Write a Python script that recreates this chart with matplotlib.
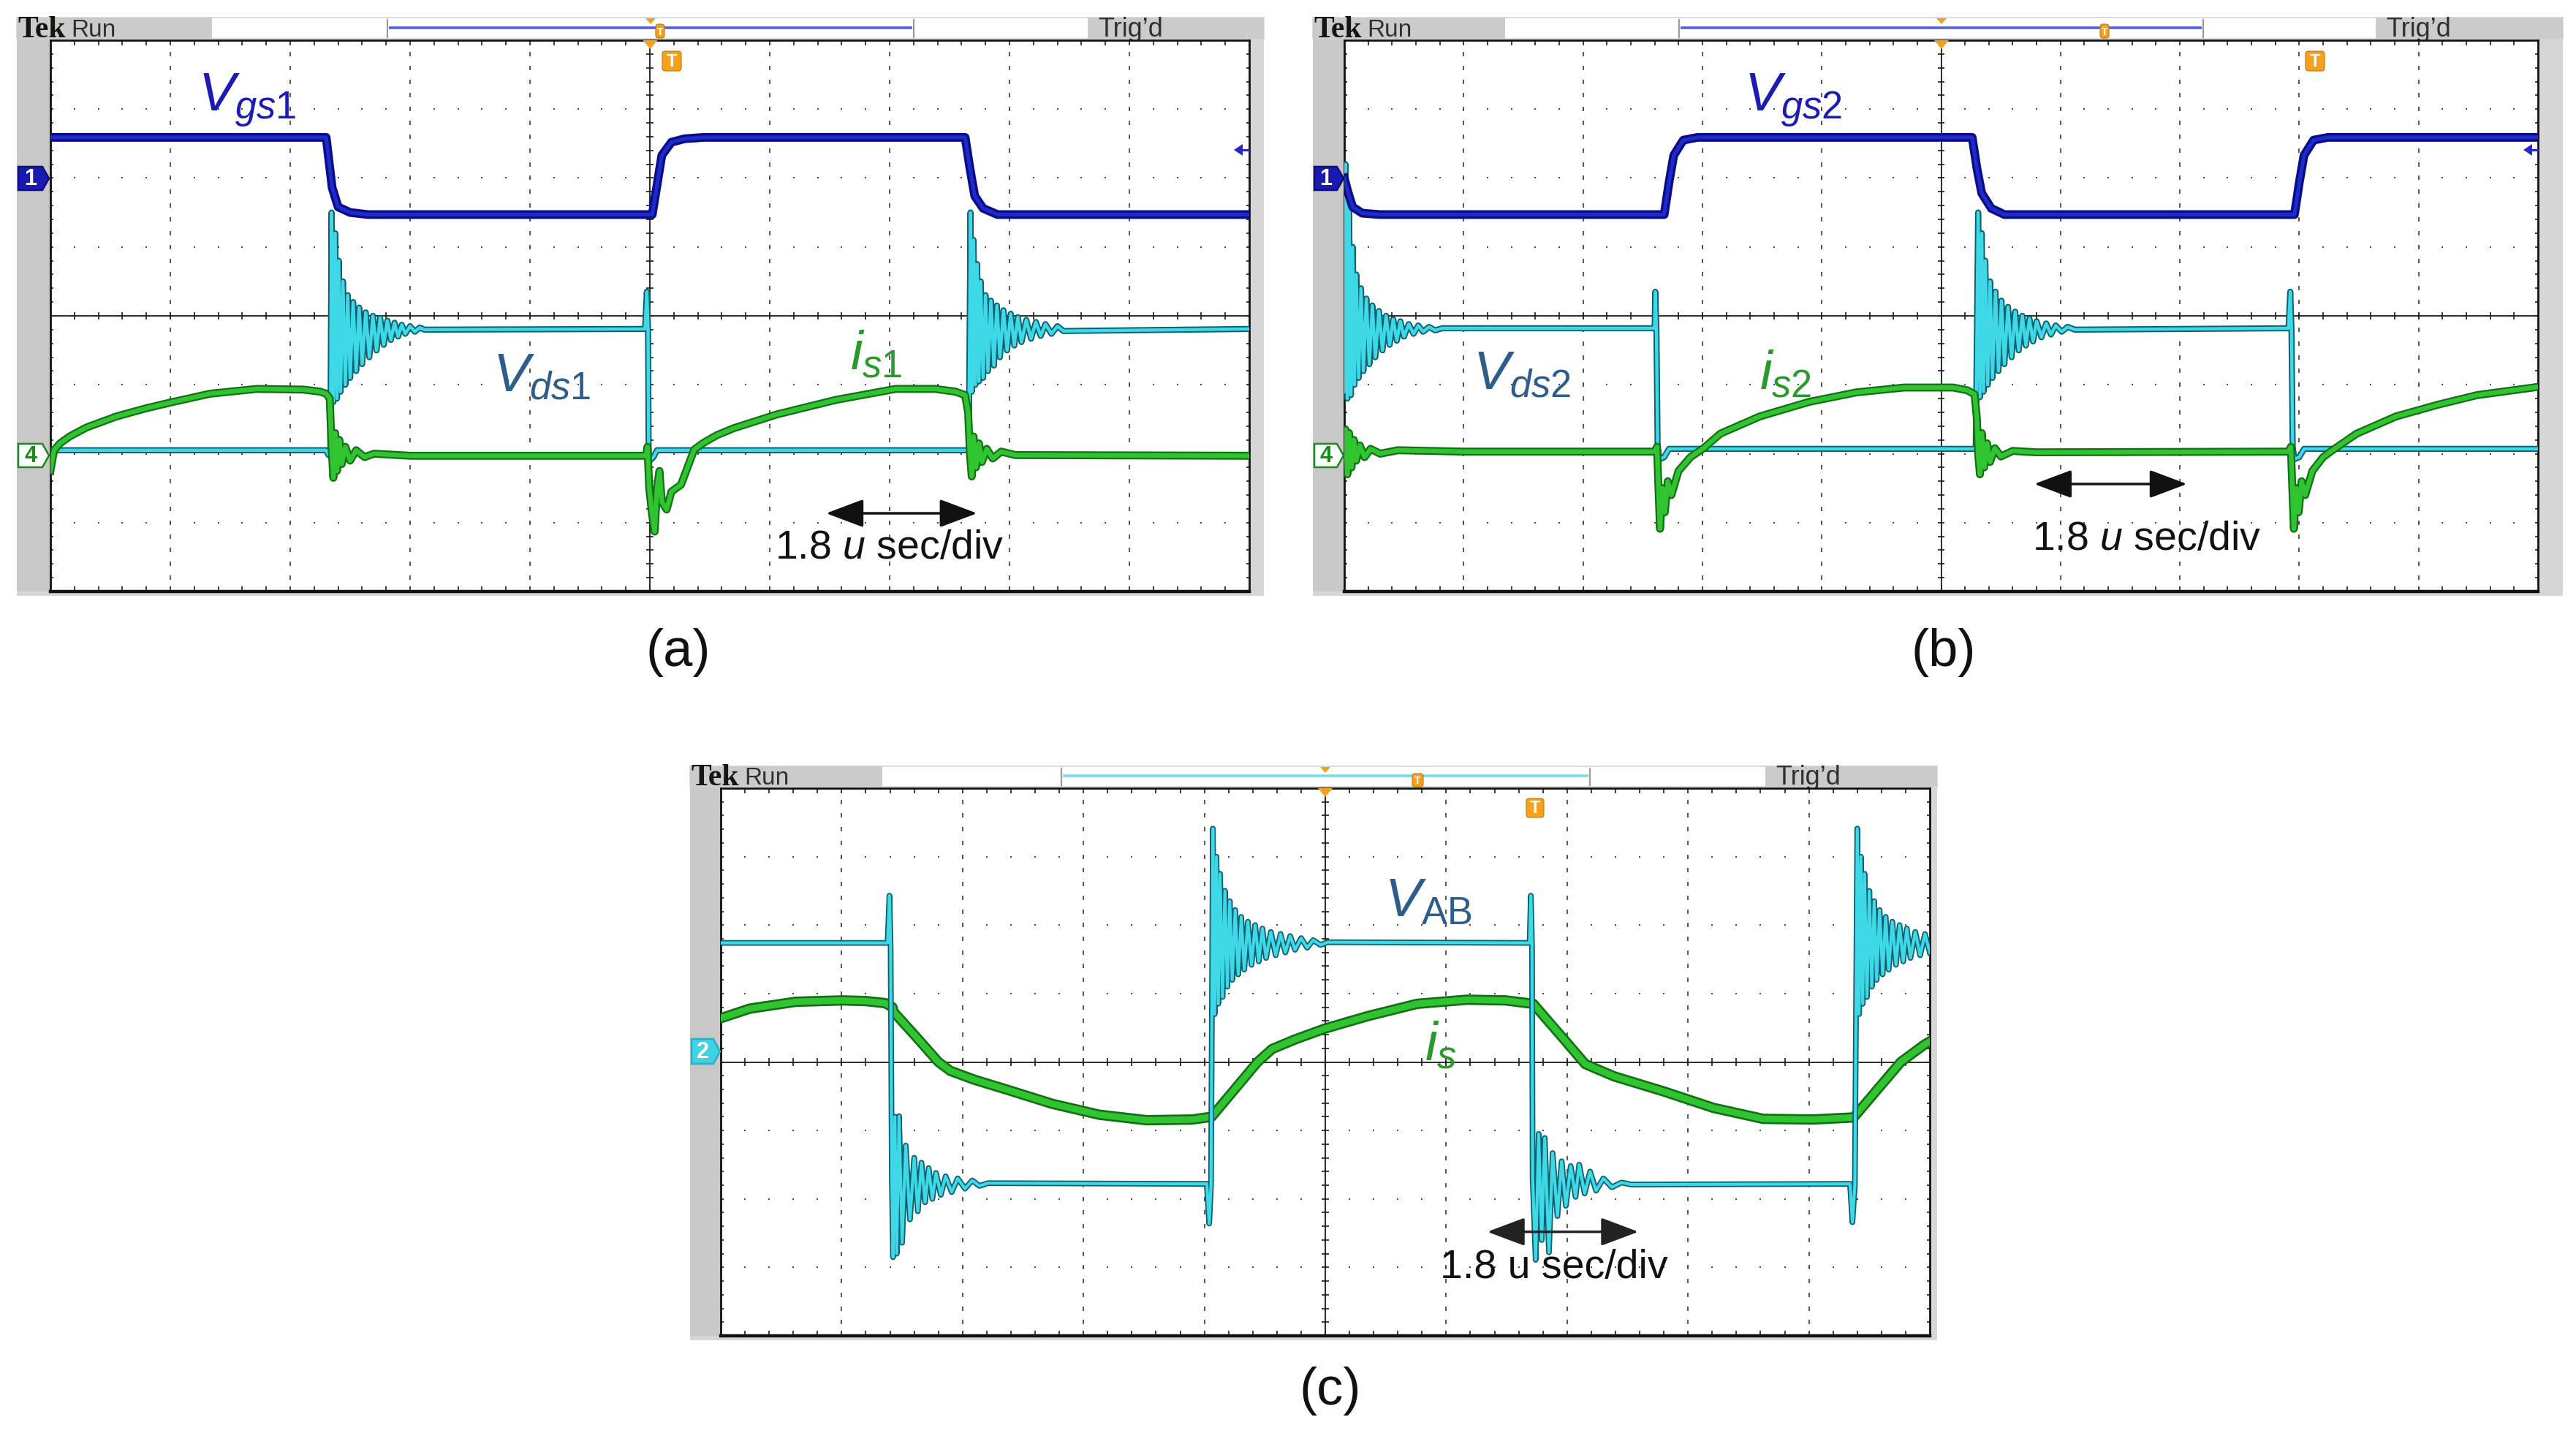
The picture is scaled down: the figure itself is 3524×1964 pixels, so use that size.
import numpy as np
import matplotlib
matplotlib.use('Agg')
import matplotlib.pyplot as plt
from matplotlib import patheffects as pe
from matplotlib.patches import Rectangle, Polygon, FancyBboxPatch
from matplotlib.collections import LineCollection

plt.rcParams['font.family'] = ['Liberation Sans', 'DejaVu Sans']
plt.rcParams['mathtext.fontset'] = 'custom'
plt.rcParams['mathtext.it'] = 'Liberation Sans:italic'
plt.rcParams['mathtext.rm'] = 'Liberation Sans'
plt.rcParams['mathtext.sf'] = 'Liberation Sans'
plt.rcParams['mathtext.bf'] = 'Liberation Sans:bold'

W, H, DPI = 3524, 1964, 100

# ---------------- data: (time [div], level [div]) read from the scope shots ----------------
# panel (a)
a_vgs1 = [(0.0, 6.59), (2.30, 6.59), (2.35, 5.86), (2.40, 5.58), (2.50, 5.50), (2.65, 5.47),
          (5.02, 5.47), (5.06, 5.90), (5.10, 6.33), (5.18, 6.52), (5.29, 6.57), (5.45, 6.59),
          (7.63, 6.59), (7.67, 6.14), (7.71, 5.74), (7.78, 5.56), (7.90, 5.47), (10.0, 5.47)]
a_vds1 = [(0.0, 2.05), (2.30, 2.05), (2.32, 1.98), (2.335, 2.05), (2.345, 5.50), (2.36, 2.75),
          (2.375, 5.20), (2.39, 2.80), (2.405, 4.80), (2.42, 2.90), (2.44, 4.50), (2.46, 3.00),
          (2.48, 4.30), (2.50, 3.10), (2.525, 4.20), (2.55, 3.20), (2.575, 4.12), (2.60, 3.30),
          (2.63, 4.05), (2.66, 3.40), (2.69, 4.00), (2.72, 3.50), (2.75, 3.97), (2.78, 3.58),
          (2.81, 3.93), (2.84, 3.65), (2.87, 3.90), (2.90, 3.70), (2.93, 3.87), (2.96, 3.74),
          (3.00, 3.85), (3.04, 3.77), (3.08, 3.83), (3.12, 3.80), (4.96, 3.81), (4.975, 4.35),
          (4.985, 3.80), (4.99, 2.00), (5.00, 1.90), (5.03, 1.95), (5.06, 2.05), (7.66, 2.05),
          (7.675, 5.50), (7.685, 2.90), (7.70, 5.10), (7.715, 3.00), (7.73, 4.75), (7.745, 3.05),
          (7.76, 4.50), (7.78, 3.10), (7.80, 4.30), (7.82, 3.20), (7.845, 4.22), (7.87, 3.28),
          (7.895, 4.15), (7.92, 3.40), (7.95, 4.08), (7.98, 3.50), (8.01, 4.03), (8.04, 3.57),
          (8.07, 3.98), (8.10, 3.62), (8.14, 3.94), (8.18, 3.67), (8.22, 3.91), (8.26, 3.71),
          (8.30, 3.88), (8.35, 3.74), (8.40, 3.85), (8.45, 3.78), (10.0, 3.81)]
a_is1 = [(0.00, 1.75), (0.03, 2.05), (0.08, 2.15), (0.16, 2.25), (0.30, 2.38), (0.55, 2.54),
         (0.80, 2.66), (1.02, 2.75), (1.33, 2.87), (1.72, 2.94), (2.11, 2.93), (2.25, 2.90),
         (2.30, 2.87), (2.33, 2.80), (2.345, 2.10), (2.36, 1.65), (2.375, 2.30), (2.39, 1.75),
         (2.41, 2.20), (2.43, 1.85), (2.46, 2.10), (2.50, 1.90), (2.55, 2.05), (2.62, 1.95),
         (2.70, 2.00), (3.00, 1.97), (4.97, 1.97), (4.98, 2.10), (4.995, 1.50), (5.02, 1.10),
         (5.04, 0.87), (5.06, 1.50), (5.08, 1.75), (5.10, 1.30), (5.14, 1.19), (5.18, 1.45),
         (5.26, 1.55), (5.37, 2.06), (5.45, 2.16), (5.56, 2.27), (5.70, 2.37), (6.06, 2.57),
         (6.55, 2.78), (7.05, 2.94), (7.38, 2.94), (7.55, 2.90), (7.63, 2.85), (7.655, 2.60),
         (7.67, 2.00), (7.685, 1.67), (7.70, 2.25), (7.72, 1.80), (7.745, 2.15), (7.77, 1.88),
         (7.81, 2.07), (7.86, 1.93), (7.93, 2.03), (8.05, 1.98), (10.0, 1.97)]

# panel (b)
b_vgs2 = [(0.0, 6.00), (0.03, 5.80), (0.07, 5.58), (0.15, 5.49), (0.30, 5.47), (2.68, 5.47),
          (2.72, 5.93), (2.76, 6.33), (2.84, 6.55), (2.96, 6.59), (5.26, 6.59), (5.30, 6.14),
          (5.34, 5.78), (5.42, 5.56), (5.53, 5.47), (7.96, 5.47), (8.00, 5.93), (8.04, 6.33),
          (8.12, 6.55), (8.24, 6.59), (10.0, 6.59)]
b_vds2 = [(0.0, 2.90), (0.01, 6.20), (0.025, 2.80), (0.04, 5.60), (0.055, 2.85), (0.07, 5.00),
          (0.085, 3.00), (0.10, 4.60), (0.12, 3.10), (0.14, 4.40), (0.16, 3.20), (0.185, 4.25),
          (0.21, 3.30), (0.235, 4.15), (0.26, 3.40), (0.29, 4.07), (0.32, 3.50), (0.35, 4.00),
          (0.38, 3.58), (0.41, 3.95), (0.44, 3.64), (0.47, 3.92), (0.50, 3.70), (0.54, 3.88),
          (0.58, 3.74), (0.62, 3.86), (0.66, 3.77), (0.71, 3.84), (0.76, 3.79), (0.82, 3.82),
          (2.60, 3.82), (2.605, 4.35), (2.615, 3.80), (2.625, 2.10), (2.64, 1.92), (2.68, 1.95),
          (2.72, 2.07), (5.29, 2.07), (5.31, 5.50), (5.325, 2.82), (5.34, 5.20), (5.355, 2.90),
          (5.37, 4.80), (5.39, 3.00), (5.41, 4.50), (5.43, 3.10), (5.455, 4.35), (5.48, 3.20),
          (5.505, 4.22), (5.53, 3.30), (5.56, 4.13), (5.59, 3.40), (5.62, 4.06), (5.65, 3.50),
          (5.68, 4.00), (5.71, 3.57), (5.74, 3.96), (5.77, 3.63), (5.80, 3.92), (5.84, 3.69),
          (5.88, 3.89), (5.92, 3.73), (5.96, 3.86), (6.01, 3.77), (6.06, 3.84), (6.12, 3.80),
          (7.91, 3.82), (7.925, 4.35), (7.935, 3.80), (7.945, 2.10), (7.96, 1.92), (8.00, 1.95),
          (8.04, 2.07), (10.0, 2.07)]
b_is2 = [(0.0, 2.04), (0.01, 2.35), (0.025, 1.70), (0.04, 2.30), (0.06, 1.80), (0.08, 2.20),
         (0.10, 1.90), (0.13, 2.12), (0.17, 1.95), (0.22, 2.07), (0.30, 2.00), (0.45, 2.05),
         (1.00, 2.03), (2.60, 2.03), (2.62, 2.10), (2.63, 1.60), (2.645, 0.91), (2.665, 1.50),
         (2.685, 1.15), (2.71, 1.60), (2.74, 1.40), (2.80, 1.75), (2.90, 1.95), (3.01, 2.08),
         (3.15, 2.29), (3.48, 2.54), (3.89, 2.75), (4.29, 2.89), (4.69, 2.96), (5.10, 2.96),
         (5.22, 2.92), (5.28, 2.86), (5.30, 2.50), (5.31, 2.00), (5.325, 1.70), (5.34, 2.30),
         (5.36, 1.80), (5.385, 2.15), (5.41, 1.88), (5.45, 2.08), (5.50, 1.96), (5.60, 2.04),
         (5.80, 2.02), (7.91, 2.03), (7.93, 2.10), (7.94, 1.60), (7.955, 0.91), (7.975, 1.50),
         (7.995, 1.15), (8.02, 1.60), (8.05, 1.40), (8.11, 1.75), (8.20, 1.95), (8.27, 2.04),
         (8.48, 2.29), (8.81, 2.54), (9.16, 2.71), (9.49, 2.85), (9.96, 2.96), (10.0, 2.97)]

# panel (c)
c_vab = [(0.0, 5.74), (1.38, 5.74), (1.395, 6.43), (1.405, 5.70), (1.415, 2.30), (1.425, 1.15),
         (1.44, 3.20), (1.455, 1.20), (1.475, 3.21), (1.50, 1.36), (1.53, 2.78), (1.565, 1.70),
         (1.60, 2.60), (1.63, 1.82), (1.66, 2.53), (1.69, 1.95), (1.72, 2.45), (1.75, 2.00),
         (1.78, 2.38), (1.82, 2.06), (1.86, 2.33), (1.91, 2.10), (1.96, 2.30), (2.02, 2.15),
         (2.08, 2.27), (2.14, 2.19), (2.21, 2.23), (4.02, 2.22), (4.04, 1.64), (4.055, 2.20),
         (4.07, 7.41), (4.085, 4.70), (4.10, 7.00), (4.115, 4.85), (4.13, 6.75), (4.15, 4.95),
         (4.17, 6.50), (4.19, 5.10), (4.21, 6.35), (4.23, 5.20), (4.255, 6.22), (4.28, 5.28),
         (4.305, 6.12), (4.33, 5.35), (4.36, 6.05), (4.39, 5.42), (4.42, 6.00), (4.45, 5.47),
         (4.48, 5.95), (4.51, 5.52), (4.55, 5.90), (4.59, 5.56), (4.63, 5.87), (4.67, 5.60),
         (4.71, 5.84), (4.75, 5.64), (4.80, 5.81), (4.85, 5.67), (4.90, 5.78), (4.96, 5.71),
         (5.02, 5.75), (6.69, 5.74), (6.70, 6.43), (6.71, 5.70), (6.715, 2.30), (6.74, 1.11),
         (6.765, 2.95), (6.79, 1.40), (6.815, 2.89), (6.85, 1.22), (6.88, 2.67), (6.92, 1.75),
         (6.955, 2.55), (6.99, 1.90), (7.03, 2.48), (7.07, 2.03), (7.10, 2.50), (7.145, 2.08),
         (7.19, 2.40), (7.24, 2.12), (7.30, 2.30), (7.37, 2.17), (7.45, 2.24), (7.53, 2.21),
         (9.34, 2.22), (9.36, 1.66), (9.38, 2.20), (9.40, 7.41), (9.415, 4.70), (9.43, 7.00),
         (9.445, 4.85), (9.46, 6.75), (9.48, 4.95), (9.50, 6.50), (9.52, 5.10), (9.54, 6.35),
         (9.56, 5.20), (9.585, 6.22), (9.61, 5.28), (9.635, 6.12), (9.66, 5.35), (9.69, 6.05),
         (9.72, 5.42), (9.75, 6.00), (9.78, 5.47), (9.81, 5.95), (9.84, 5.52), (9.88, 5.90),
         (9.92, 5.56), (9.96, 5.87), (10.0, 5.60)]
c_is = [(0.0, 4.64), (0.24, 4.78), (0.62, 4.88), (1.01, 4.90), (1.20, 4.89), (1.36, 4.86),
        (1.42, 4.80), (1.43, 4.73), (1.62, 4.36), (1.80, 4.00), (1.90, 3.87), (2.10, 3.74),
        (2.36, 3.60), (2.74, 3.39), (3.13, 3.23), (3.52, 3.15), (3.90, 3.16), (4.06, 3.20),
        (4.25, 3.60), (4.44, 4.00), (4.56, 4.19), (4.75, 4.33), (5.00, 4.49), (5.35, 4.67),
        (5.76, 4.85), (6.17, 4.91), (6.49, 4.90), (6.72, 4.85), (6.98, 4.32), (7.15, 3.97),
        (7.39, 3.79), (7.80, 3.57), (8.21, 3.33), (8.62, 3.17), (9.03, 3.16), (9.37, 3.19),
        (9.76, 4.00), (9.96, 4.26), (10.0, 4.30)]

panel_letters = ['(a)', '(b)', '(c)']
timebase = '1.8 u sec/div'

# ---------------- styles ----------------
C_VGS_CORE, C_VGS_EDGE = '#1d2cc4', '#0b0b8e'
C_VDS_CORE, C_VDS_EDGE = '#3fd8e6', '#0a5f70'
C_IS_CORE, C_IS_EDGE = '#30c430', '#126f14'
C_LBL_VGS, C_LBL_VDS, C_LBL_IS = '#1c1cb4', '#2d5d8c', '#2a9a2a'
ORANGE = '#f5a11e'
GRAY_L, GRAY_R = '#c8c8c8', '#d6d6d6'

fig = plt.figure(figsize=(W / DPI, H / DPI), dpi=DPI)
fig.patch.set_facecolor('white')


def pix_axes(z):
    ax = fig.add_axes([0, 0, 1, 1], zorder=z)
    ax.set_xlim(0, W)
    ax.set_ylim(H, 0)
    ax.axis('off')
    return ax


bg = pix_axes(0)
ov = pix_axes(5)


def scope_frame(fl, ft, fr, fb, hb, gx0, gx1, gy1, tek_r, br_l, br_r, trig_l, line_col):
    bg.add_patch(Rectangle((fl, ft), gx0 - fl, fb - ft, fc=GRAY_L, ec='none'))
    bg.add_patch(Rectangle((gx1, hb), fr - gx1, fb - hb, fc=GRAY_R, ec='none'))
    bg.add_patch(Rectangle((fl, gy1), fr - fl, fb - gy1, fc=GRAY_R, ec='none'))
    bg.add_patch(Rectangle((fl, ft), fr - fl, hb - ft, fc='white', ec='#d4d4d4', lw=1.2))
    bg.add_patch(Rectangle((fl, ft), tek_r - fl, hb - ft, fc='#cbcbcb', ec='none'))
    bg.add_patch(Rectangle((trig_l, ft), fr - trig_l, hb - ft, fc='#cbcbcb', ec='none'))
    ym = ft + (hb - ft) * 0.47
    bg.plot([br_l + 2, br_r - 2], [ym, ym], color=line_col, lw=2.6, solid_capstyle='butt')
    for bx in (br_l, br_r):
        bg.plot([bx, bx], [ft + 3, hb - 2], color='#9a9a9a', lw=1.6)
    bg.text(fl + 1, hb - 2, 'Tek', fontfamily=['Liberation Serif', 'DejaVu Serif'],
            fontweight='bold', fontsize=30, color='#101810', va='baseline', ha='left')
    bg.text(fl + 74, hb - 3, 'Run', fontfamily=['Liberation Sans Narrow', 'Liberation Sans'],
            fontsize=24, color='#303030', va='baseline', ha='left')
    bg.text(trig_l + 14, hb - 3, 'Trig\u2019d', fontfamily=['Liberation Sans Narrow', 'Liberation Sans'],
            fontsize=26, color='#303030', va='baseline', ha='left')


def grid_axes(gx0, gy0, gx1, gy1):
    ax = fig.add_axes([gx0 / W, 1 - gy1 / H, (gx1 - gx0) / W, (gy1 - gy0) / H], zorder=2)
    ax.set_xlim(0, 10)
    ax.set_ylim(0, 8)
    ax.set_xticks([])
    ax.set_yticks([])
    ax.set_facecolor('white')
    for s in ax.spines.values():
        s.set_color('#111111')
        s.set_linewidth(2.0)
    ax.spines['bottom'].set_linewidth(3.2)
    fx = np.arange(0.2, 10.0, 0.2)
    fy = np.arange(0.2, 8.0, 0.2)
    for gx in (1, 2, 3, 4, 6, 7, 8, 9):
        ax.plot(np.full(fy.size, gx), fy, ls='none', marker='|', ms=4.5, mew=1.3,
                color='#4a4a4a', zorder=1)
    for gy in (1, 2, 3, 5, 6, 7):
        ax.plot(fx, np.full(fx.size, gy), ls='none', marker='s', ms=1.8, mew=0,
                color='#4a4a4a', zorder=1)
    ax.axhline(4, color='#1a1a1a', lw=1.3, zorder=1)
    ax.axvline(5, color='#1a1a1a', lw=1.3, zorder=1)
    segs = []
    for x in fx:
        segs += [[(x, 3.945), (x, 4.055)], [(x, 8.0), (x, 7.93)], [(x, 0.0), (x, 0.07)]]
    for y in fy:
        segs += [[(4.97, y), (5.03, y)], [(0.0, y), (0.025, y)], [(10.0, y), (9.975, y)]]
    ax.add_collection(LineCollection(segs, colors='#1a1a1a', linewidths=1.2, zorder=1))
    return ax


def trace(ax, pts, core, edge, lw, elw, z):
    a = np.asarray(pts, dtype=float)
    ax.plot(a[:, 0], a[:, 1], color=core, lw=lw, zorder=z, solid_joinstyle='round',
            path_effects=[pe.Stroke(linewidth=elw, foreground=edge), pe.Normal()])


def dbl_arrow(ax, t0, t1, v, col):
    ax.annotate('', xy=(t1, v), xytext=(t0, v), zorder=6,
                arrowprops=dict(arrowstyle='<|-|>,head_length=0.8,head_width=0.3',
                                mutation_scale=40, color=col, lw=2.5,
                                shrinkA=0, shrinkB=0))


def tbox(x, y, w, h, fs):
    ov.add_patch(FancyBboxPatch((x, y), w, h, boxstyle='round,pad=0,rounding_size=4',
                                fc=ORANGE, ec='#c07808', lw=0.8))
    ov.text(x + w / 2, y + h / 2 + 1, 'T', color='white', fontsize=fs, fontweight='bold',
            ha='center', va='center')


def tri(xc, y, w, h):
    ov.add_patch(Polygon([(xc - w / 2, y), (xc + w / 2, y), (xc, y + h)], closed=True,
                         fc=ORANGE, ec='none'))


def ch_marker(x0, x1, yc, hh, fc, ec, txt, tc):
    ov.add_patch(Polygon([(x0, yc - hh), (x1 - 9, yc - hh), (x1, yc), (x1 - 9, yc + hh),
                          (x0, yc + hh)], closed=True, fc=fc, ec=ec, lw=1.8))
    ov.text((x0 + x1 - 9) / 2, yc + 1, txt, color=tc, fontsize=22, fontweight='bold',
            ha='center', va='center')


def left_arrow(x0, x1, yc, col):
    ov.add_patch(Polygon([(x0, yc), (x0 + 12, yc - 8), (x0 + 12, yc + 8)], closed=True,
                         fc=col, ec='none'))
    ov.plot([x0 + 10, x1], [yc, yc], color=col, lw=2.2)


# ---------------- panel (a) ----------------
scope_frame(23, 24, 1729, 815, 53, 69, 1709, 809, 290, 530, 1250, 1488, '#5060e4')
axa = grid_axes(69, 55, 1709, 809)
trace(axa, a_vds1, C_VDS_CORE, C_VDS_EDGE, 3.2, 6.0, 3)
trace(axa, a_is1, C_IS_CORE, C_IS_EDGE, 4.6, 7.8, 4)
trace(axa, a_vgs1, C_VGS_CORE, C_VGS_EDGE, 3.6, 8.6, 5)
axa.text(1.23, 6.97, r'$V_{gs1}$', color=C_LBL_VGS, fontsize=54, ha='left', va='baseline', zorder=7)
axa.text(3.69, 2.91, r'$V_{ds1}$', color=C_LBL_VDS, fontsize=54, ha='left', va='baseline', zorder=7)
axa.text(6.67, 3.23, r'$i_{s1}$', color=C_LBL_IS, fontsize=54, ha='left', va='baseline', zorder=7)
dbl_arrow(axa, 6.47, 7.73, 1.135, '#111111')
axa.text(7.0, 0.63, '1.8 $u$ sec/div', color='#111111', fontsize=40, ha='center', va='center', zorder=7)

# ---------------- panel (b) ----------------
scope_frame(1796, 24, 3506, 815, 53, 1839, 3472, 809, 2059, 2297, 3014, 3250, '#5060e4')
axb = grid_axes(1839, 55, 3472, 809)
trace(axb, b_vds2, C_VDS_CORE, C_VDS_EDGE, 3.2, 6.0, 3)
trace(axb, b_is2, C_IS_CORE, C_IS_EDGE, 4.6, 7.8, 4)
trace(axb, b_vgs2, C_VGS_CORE, C_VGS_EDGE, 3.6, 8.6, 5)
axb.text(3.35, 6.97, r'$V_{gs2}$', color=C_LBL_VGS, fontsize=54, ha='left', va='baseline', zorder=7)
axb.text(1.08, 2.94, r'$V_{ds2}$', color=C_LBL_VDS, fontsize=54, ha='left', va='baseline', zorder=7)
axb.text(3.48, 2.94, r'$i_{s2}$', color=C_LBL_IS, fontsize=54, ha='left', va='baseline', zorder=7)
dbl_arrow(axb, 5.78, 7.06, 1.56, '#111111')
axb.text(6.72, 0.75, '1.8 $u$ sec/div', color='#111111', fontsize=40, ha='center', va='center', zorder=7)

# ---------------- panel (c) ----------------
scope_frame(944, 1048, 2650, 1833, 1076, 986, 2640, 1827, 1207, 1452, 2175, 2415, '#72e2ea')
axc = grid_axes(986, 1078, 2640, 1827)
trace(axc, c_is, C_IS_CORE, C_IS_EDGE, 6.4, 10.2, 3)
trace(axc, c_vab, C_VDS_CORE, C_VDS_EDGE, 3.0, 5.6, 4)
axc.text(5.49, 6.13, r'$V_{\mathrm{AB}}$', color=C_LBL_VDS, fontsize=54, ha='left', va='baseline', zorder=7)
axc.text(5.82, 4.03, r'$i_{s}$', color=C_LBL_IS, fontsize=54, ha='left', va='baseline', zorder=7)
dbl_arrow(axc, 6.34, 7.59, 1.52, '#222222')
axc.text(6.89, 0.99, timebase, color='#111111', fontsize=40, ha='center', va='center', zorder=7)

# ---------------- scope markers (overlay) ----------------
# (a)
tri(890, 25, 14, 8)
tbox(897, 33, 12, 19, 10)
tri(889.5, 55, 20, 12)
tbox(906, 70, 26, 27, 17)
ch_marker(25, 67, 244, 16, '#1a1ab0', '#0e0e80', '1', 'white')
ch_marker(25, 67, 623, 16, 'white', '#1a8a1a', '4', '#1a8a1a')
left_arrow(1688, 1708, 205, '#2626cc')
# (b)
tri(2656, 25, 14, 8)
tbox(2873, 33, 12, 19, 10)
tri(2656, 55, 20, 12)
tbox(3154, 70, 26, 27, 17)
ch_marker(1798, 1838, 244, 16, '#1a1ab0', '#0e0e80', '1', 'white')
ch_marker(1798, 1838, 623, 16, 'white', '#1a8a1a', '4', '#1a8a1a')
left_arrow(3452, 3471, 205, '#2626cc')
# (c)
tri(1813, 1049, 14, 8)
tbox(1932, 1058, 15, 18, 10)
tri(1813, 1078, 20, 12)
tbox(2088, 1092, 24, 26, 17)
ch_marker(946, 985, 1438, 17, '#3fd2e2', '#2ab0c0', '2', 'white')

# ---------------- panel letters ----------------
for lbl, (x, y) in zip(panel_letters, [(928, 892), (2659, 892), (1820, 1903)]):
    bg.text(x, y, lbl, fontsize=52, color='#111111', ha='center', va='center')

fig.savefig('out.png', dpi=DPI, facecolor='white')
